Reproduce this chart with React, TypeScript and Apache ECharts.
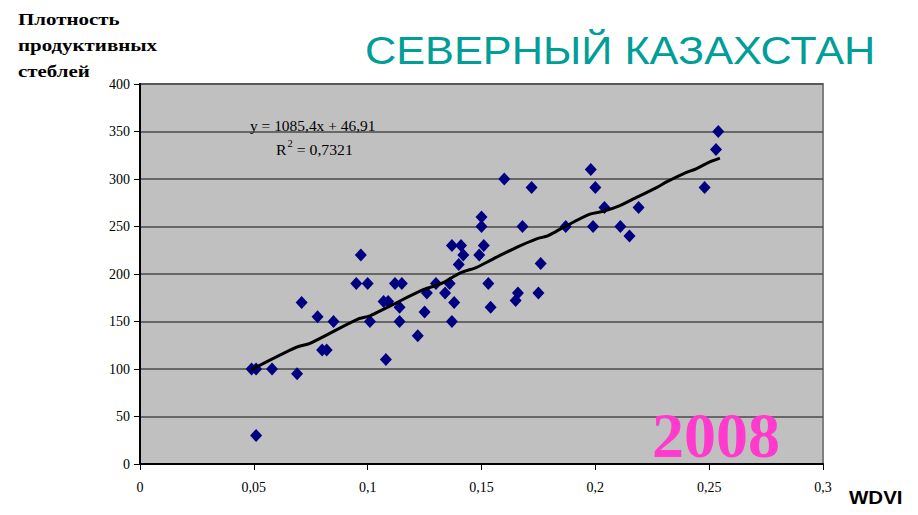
import React, { useEffect, useRef } from "react";
import * as echarts from "echarts";

const wdvi = [0.049, 0.051, 0.058, 0.051, 0.069, 0.071, 0.078, 0.080, 0.082, 0.085, 0.095, 0.097, 0.100, 0.101, 0.108, 0.107, 0.109, 0.112, 0.115, 0.114, 0.114, 0.122, 0.126, 0.125, 0.130, 0.134, 0.136, 0.138, 0.137, 0.137, 0.141, 0.142, 0.140, 0.149, 0.151, 0.150, 0.150, 0.153, 0.154, 0.160, 0.165, 0.166, 0.168, 0.172, 0.175, 0.176, 0.187, 0.198, 0.200, 0.199, 0.204, 0.211, 0.215, 0.219, 0.248, 0.253, 0.254];
const density = [100, 100, 100, 30, 95, 170, 155, 120, 120, 150, 190, 220, 190, 150, 110, 171, 171, 190, 190, 165, 150, 135, 180, 160, 190, 180, 190, 170, 150, 230, 230, 220, 210, 220, 230, 250, 260, 190, 165, 300, 172, 180, 250, 291, 180, 211, 250, 310, 291, 250, 270, 250, 240, 270, 291, 331, 350];

const trendX = [0.0487, 0.0688, 0.0747, 0.0952, 0.101, 0.1112, 0.123, 0.1332, 0.1405, 0.1479, 0.1552, 0.1654, 0.1742, 0.1793, 0.1859, 0.1976, 0.2035, 0.2108, 0.2167, 0.2269, 0.2313, 0.2386, 0.2445, 0.2503, 0.2547];
const trendY = [99, 123, 127, 152, 156, 168, 182, 191, 201, 207, 216, 228, 237, 240.5, 249, 263, 266, 272, 279, 291, 297, 305.5, 311, 318, 322];

const yTicks = { min: 0, max: 400, interval: 50 };
const xTicks = { min: 0, max: 0.3, interval: 0.05 };

const titleText = "СЕВЕРНЫЙ КАЗАХСТАН";
const yAxisTitle = ["Плотность", "продуктивных", "стеблей"];
const xAxisTitle = "WDVI";
const yearText = "2008";
const eqText = "y = 1085,4x + 46,91";
const r2Value = "0,7321";

export default function App() {
  const ref = useRef<HTMLDivElement>(null);
  useEffect(() => {
    if (!ref.current) return;
    const chart = echarts.init(ref.current, undefined, { renderer: "svg" });
    const fmt = (v: number) => String(+v.toFixed(2)).replace(".", ",");
    chart.setOption({
      animation: false,
      backgroundColor: "#ffffff",
      grid: {
        left: 140,
        right: 95,
        top: 84,
        bottom: 51,
        show: true,
        backgroundColor: "#C0C0C0",
        borderColor: "#808080",
        borderWidth: 2,
      },
      xAxis: {
        type: "value",
        min: xTicks.min,
        max: xTicks.max,
        interval: xTicks.interval,
        splitLine: { show: false },
        axisLine: { show: true, onZero: false, lineStyle: { color: "#000", width: 2 } },
        axisTick: { show: true, length: 6, lineStyle: { color: "#000" } },
        axisLabel: {
          formatter: fmt,
          color: "#000",
          fontFamily: "Liberation Serif",
          fontSize: 14,
          margin: 16,
        },
      },
      yAxis: {
        type: "value",
        min: yTicks.min,
        max: yTicks.max,
        interval: yTicks.interval,
        splitLine: { show: true, lineStyle: { color: "#4a4a4a", width: 1.5 } },
        axisLine: { show: true, onZero: false, lineStyle: { color: "#000", width: 2 } },
        axisTick: { show: true, length: 6, lineStyle: { color: "#000" } },
        axisLabel: {
          color: "#000",
          fontFamily: "Liberation Serif",
          fontSize: 14,
          margin: 10,
        },
      },
      series: [
        {
          type: "scatter",
          data: wdvi.map((x, i) => [x, density[i]]),
          symbol: "diamond",
          symbolSize: [12, 13],
          itemStyle: { color: "#000080", opacity: 1 },
          z: 3,
        },
        {
          type: "line",
          data: trendX.map((x, i) => [x, trendY[i]]),
          showSymbol: false,
          smooth: 0.3,
          lineStyle: { color: "#000", width: 3 },
          z: 4,
        },
      ],
      graphic: [
        {
          type: "text",
          x: 365,
          y: 31,
          scaleX: 1.11,
          style: {
            text: titleText,
            fill: "#009E98",
            font: "39px 'Liberation Sans', Arial, sans-serif",
          },
        },
        {
          type: "text",
          x: 18,
          y: 6,
          scaleX: 1.23,
          style: {
            text: yAxisTitle.join("\n"),
            fill: "#000",
            font: "bold 17px 'Liberation Serif', serif",
            lineHeight: 26,
          },
        },
        {
          type: "text",
          x: 849,
          y: 488,
          scaleX: 1.08,
          style: {
            text: xAxisTitle,
            fill: "#000",
            font: "bold 19px 'Liberation Sans', Arial, sans-serif",
          },
        },
        {
          type: "text",
          x: 652,
          y: 403,
          style: {
            text: yearText,
            fill: "#FF3ACC",
            font: "bold 64px 'Liberation Serif', serif",
          },
          z: 10,
        },
        {
          type: "text",
          x: 250,
          y: 118,
          scaleX: 1.03,
          style: {
            text: eqText,
            fill: "#000",
            font: "15px 'Liberation Serif', serif",
          },
          z: 10,
        },
        {
          type: "text",
          x: 276,
          y: 139,
          scaleX: 1.05,
          style: {
            text: "{r|R}{s|2}{r| = " + r2Value + "}",
            rich: {
              r: { fill: "#000", font: "15px 'Liberation Serif', serif", verticalAlign: "bottom" },
              s: { fill: "#000", font: "10px 'Liberation Serif', serif", verticalAlign: "top", padding: [0, 0, 8, 1] },
            },
          },
          z: 10,
        },
      ],
    });
    return () => chart.dispose();
  }, []);
  return (
    <div
      ref={ref}
      style={{ position: "fixed", left: 0, top: 0, width: 918, height: 515 }}
    />
  );
}
